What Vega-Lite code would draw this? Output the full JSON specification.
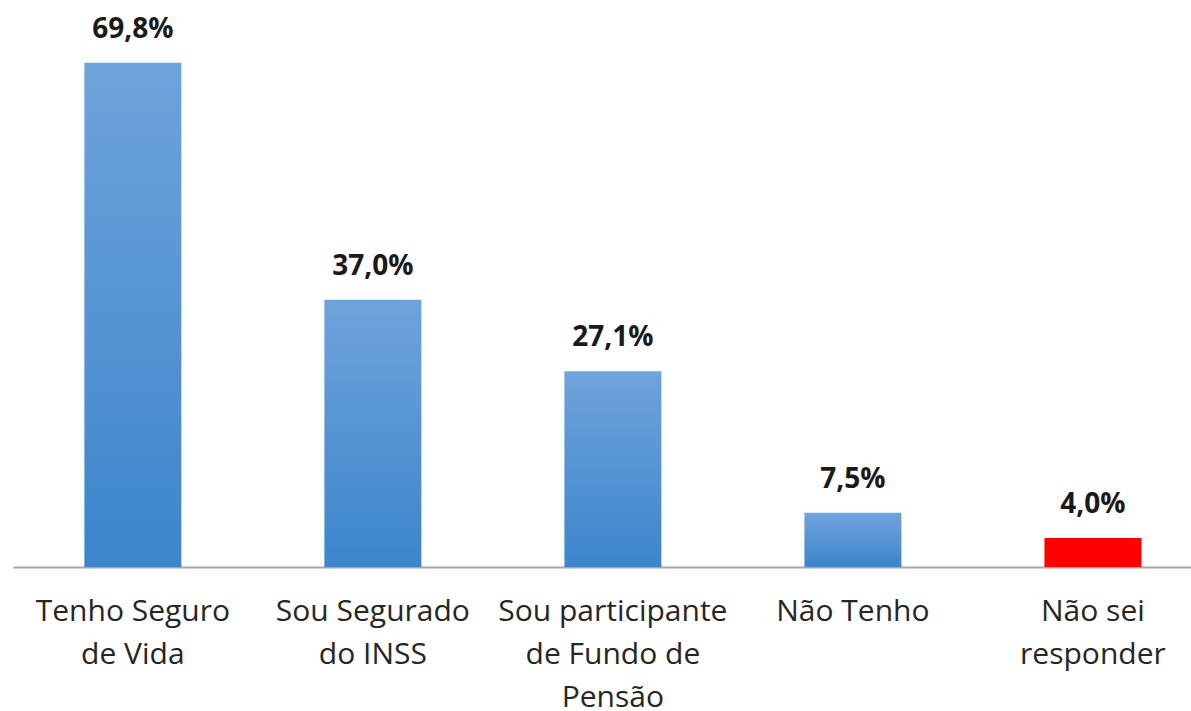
{
  "$schema": "https://vega.github.io/schema/vega-lite/v6.json",
  "autosize": {"type": "none"},
  "width": 1178,
  "height": 567,
  "padding": {"left": 13, "top": 0, "right": 0, "bottom": 144},
  "background": "white",
  "config": {"view": {"stroke": null}},
  "data": {
    "values": [
      {"cat": "Tenho Seguro\nde Vida", "value": 69.8, "grp": "a"},
      {"cat": "Sou Segurado\ndo INSS", "value": 37.0, "grp": "a"},
      {"cat": "Sou participante\nde Fundo de\nPensão", "value": 27.1, "grp": "a"},
      {"cat": "Não Tenho", "value": 7.5, "grp": "a"},
      {"cat": "Não sei\nresponder", "value": 4.0, "grp": "b"}
    ]
  },
  "encoding": {
    "x": {
      "field": "cat", "type": "nominal", "sort": null,
      "scale": {"paddingInner": 0.596, "paddingOuter": 0.252, "align": 0.59},
      "axis": {
        "title": null, "labelAngle": 0, "ticks": false,
        "domainColor": "#a6a6a6", "domainWidth": 2,
        "labelFont": "Open Sans", "labelFontSize": 30, "labelColor": "#262626",
        "labelPadding": 29, "labelLineHeight": 43, "labelBaseline": "top",
        "labelExpr": "split(datum.value, '\\n')", "labelLimit": 400
      }
    },
    "y": {
      "field": "value", "type": "quantitative",
      "scale": {"domain": [0, 78.5], "nice": false},
      "axis": null
    }
  },
  "layer": [
    {
      "transform": [{"filter": "datum.grp === 'a'"}],
      "mark": {
        "type": "bar",
        "color": {
          "gradient": "linear", "x1": 0, "y1": 0, "x2": 0, "y2": 1,
          "stops": [{"offset": 0, "color": "#6fa3dc"}, {"offset": 1, "color": "#3c85cc"}]
        }
      }
    },
    {
      "transform": [{"filter": "datum.grp === 'b'"}],
      "mark": {"type": "bar", "color": "#ff0000"}
    },
    {
      "transform": [{"calculate": "replace(format(datum.value, '.1f'), '.', ',') + '%'", "as": "label"}],
      "mark": {"type": "text", "font": "Open Sans", "fontWeight": "bold", "fontSize": 28, "dy": -25, "baseline": "alphabetic", "color": "#1a1a1a"},
      "encoding": {"text": {"field": "label"}}
    }
  ]
}
